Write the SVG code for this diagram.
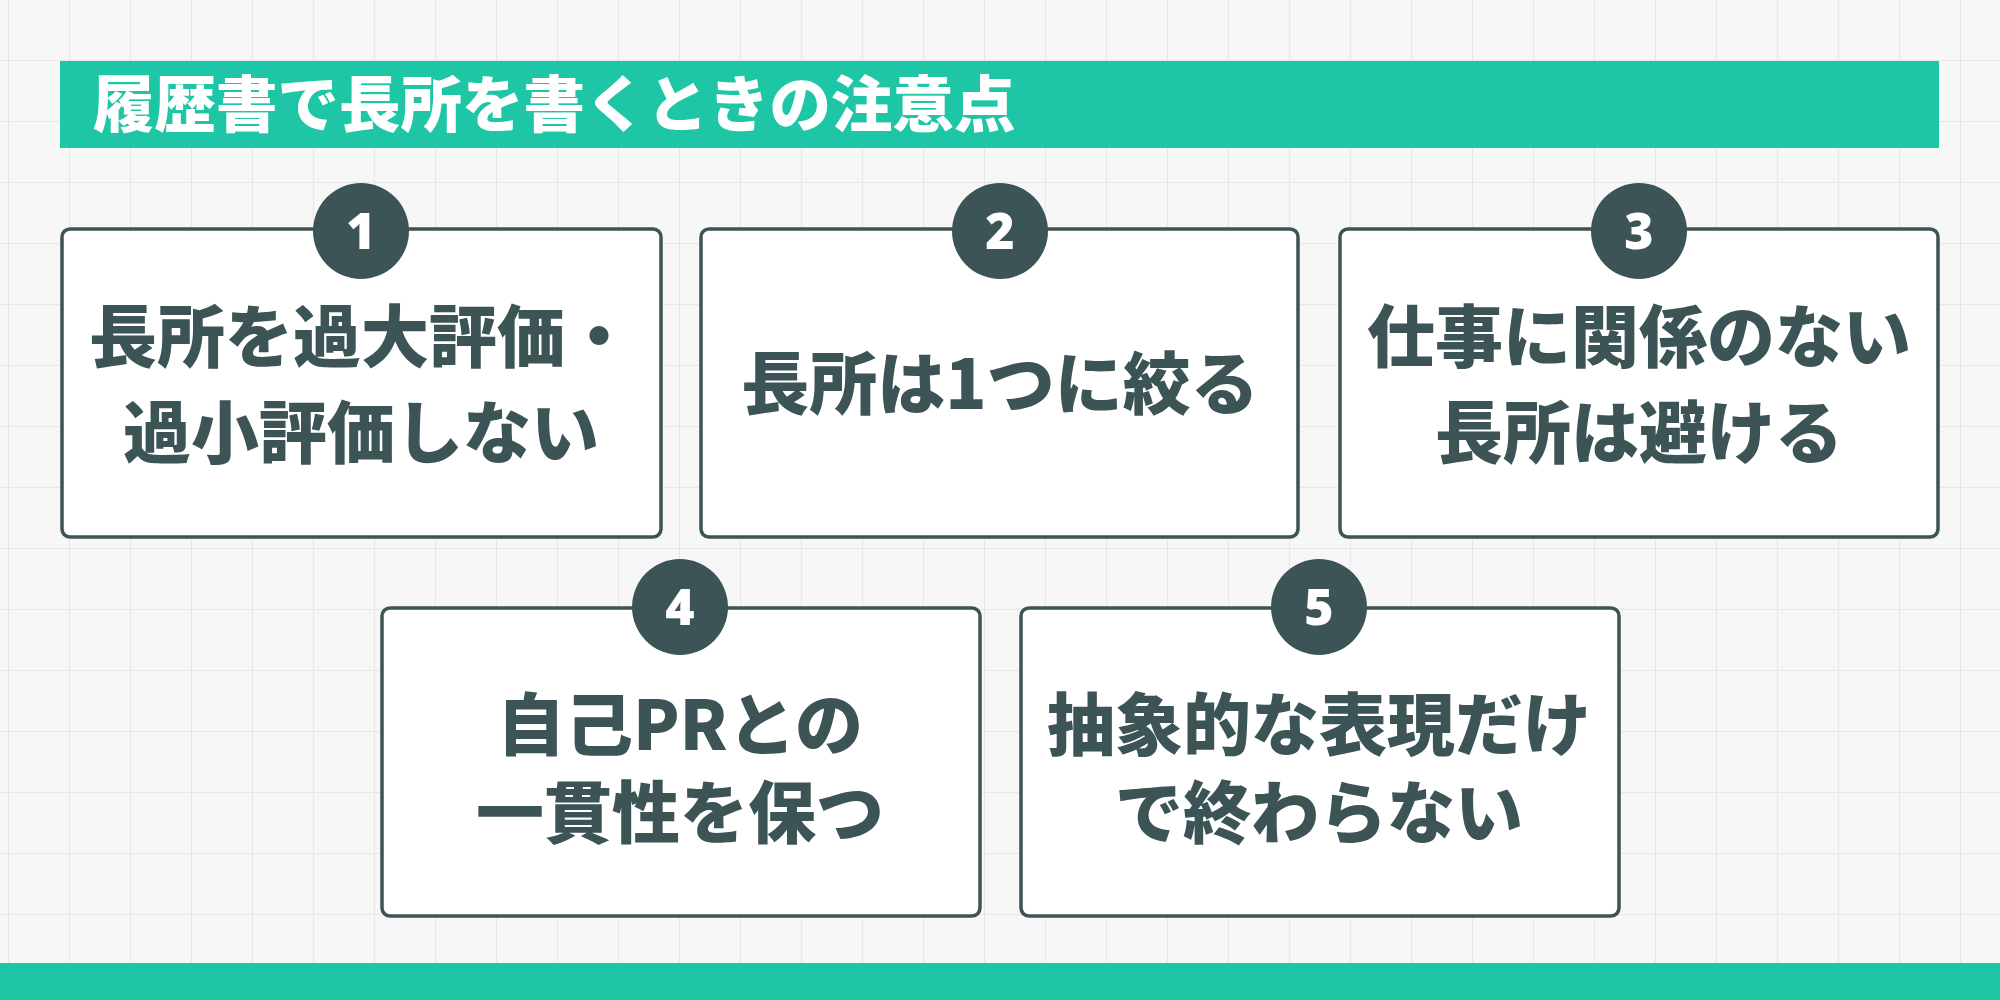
<svg xmlns="http://www.w3.org/2000/svg" width="2000" height="1000" viewBox="0 0 2000 1000">
<defs>
<pattern id="grid" width="61" height="61" patternUnits="userSpaceOnUse" x="9" y="0">
<path d="M61 0V61M0 61H61" fill="none" stroke="#e2e2e2" stroke-width="1.5"/>
</pattern>
<style>
.box{fill:#fff;stroke:#3d5457;stroke-width:3.5}
.num{fill:#3d5457}
.nt{font-family:"Noto Sans",sans-serif;font-weight:900;font-size:50px;fill:#fff;text-anchor:middle}
.t{font-family:"Noto Sans CJK JP",sans-serif;font-weight:900;font-size:68px;fill:#3d5457;text-anchor:middle}
</style>
</defs>
<rect width="2000" height="1000" fill="#f7f7f7"/>
<rect width="2000" height="1000" fill="url(#grid)"/>
<rect x="60" y="61" width="1879" height="87" fill="#1fc6a6"/>
<text x="93" y="127" font-family="Noto Sans CJK JP, sans-serif" font-weight="900" font-size="61.5" fill="#fff">履歴書で長所を書くときの注意点</text>
<rect x="0" y="963" width="2000" height="37" fill="#1fc6a6"/>
<g id="n1"><rect class="box" x="62" y="229" width="599" height="308" rx="8"/><circle class="num" cx="361" cy="231" r="48"/><text class="nt" x="361" y="249">1</text><text class="t" x="361" y="362">長所を過大評価・</text><text class="t" x="361" y="458">過小評価しない</text></g>
<g id="n2"><rect class="box" x="701" y="229" width="597" height="308" rx="8"/><circle class="num" cx="1000" cy="231" r="48"/><text class="nt" x="1000" y="249">2</text><text class="t" x="1000" y="409">長所は1つに絞る</text></g>
<g id="n3"><rect class="box" x="1340" y="229" width="598" height="308" rx="8"/><circle class="num" cx="1639" cy="231" r="48"/><text class="nt" x="1639" y="249">3</text><text class="t" x="1639" y="362">仕事に関係のない</text><text class="t" x="1639" y="458">長所は避ける</text></g>
<g id="n4"><rect class="box" x="382" y="608" width="598" height="308" rx="8"/><circle class="num" cx="680" cy="607" r="48"/><text class="nt" x="680" y="625">4</text><text class="t" x="680" y="750">自己PRとの</text><text class="t" x="680" y="838">一貫性を保つ</text></g>
<g id="n5"><rect class="box" x="1021" y="608" width="598" height="308" rx="8"/><circle class="num" cx="1319" cy="607" r="48"/><text class="nt" x="1319" y="625">5</text><text class="t" x="1319" y="750">抽象的な表現だけ</text><text class="t" x="1319" y="838">で終わらない</text></g>
<g id="connectors"/>
</svg>
